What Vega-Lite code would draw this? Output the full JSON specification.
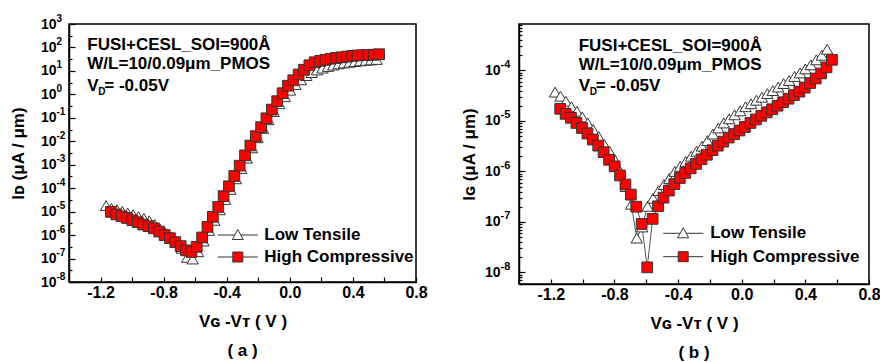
{
  "$schema": "https://vega.github.io/schema/vega-lite/v6.json",
  "background": "white",
  "padding": {"left": 8, "top": 12, "right": 2, "bottom": 0},
  "spacing": 31,
  "config": {
    "font": "Liberation Sans",
    "view": {"stroke": "#000", "strokeWidth": 1.5},
    "axis": {
      "domainColor": "#000", "domainWidth": 1.5, "tickColor": "#000", "tickWidth": 1.2,
      "labelColor": "#000", "titleColor": "#000", "labelFont": "Liberation Sans", "titleFont": "Liberation Sans",
      "labelFontWeight": "bold", "titleFontWeight": "bold", "grid": false, "labelFontSize": 16, "titleFontSize": 17
    },
    "legend": {"orient": "none", "title": null, "symbolSize": 400, "symbolStrokeColor": "#333", "symbolStrokeWidth": 1, "labelFontSize": 17, "labelFontWeight": "bold", "labelColor": "#000", "labelFont": "Liberation Sans", "labelLimit": 300, "padding": 0},
    "text": {"font": "Liberation Sans", "fontWeight": "bold", "color": "#000", "align": "left", "baseline": "alphabetic", "fontSize": 17}
  },
  "resolve": {"scale": {"fill": "independent", "color": "independent"}, "legend": {"fill": "independent", "color": "independent"}},
  "datasets": {
    "a": [
      {"s":"Low Tensile","v":-1.165,"I":1.82e-5},{"s":"Low Tensile","v":-1.131,"I":1.38e-5},{"s":"Low Tensile","v":-1.096,"I":1.20e-5},{"s":"Low Tensile","v":-1.062,"I":1.02e-5},{"s":"Low Tensile","v":-1.028,"I":8.71e-6},{"s":"Low Tensile","v":-0.994,"I":7.41e-6},{"s":"Low Tensile","v":-0.959,"I":6.17e-6},{"s":"Low Tensile","v":-0.925,"I":5.13e-6},{"s":"Low Tensile","v":-0.891,"I":4.07e-6},{"s":"Low Tensile","v":-0.856,"I":2.82e-6},
      {"s":"Low Tensile","v":-0.822,"I":1.82e-6},{"s":"Low Tensile","v":-0.788,"I":1.20e-6},{"s":"Low Tensile","v":-0.753,"I":8.13e-7},{"s":"Low Tensile","v":-0.719,"I":5.25e-7},{"s":"Low Tensile","v":-0.685,"I":2.75e-7},{"s":"Low Tensile","v":-0.650,"I":1.12e-7},{"s":"Low Tensile","v":-0.616,"I":9.55e-8},{"s":"Low Tensile","v":-0.582,"I":1.95e-7},{"s":"Low Tensile","v":-0.548,"I":5.62e-7},{"s":"Low Tensile","v":-0.513,"I":1.58e-6},
      {"s":"Low Tensile","v":-0.479,"I":4.27e-6},{"s":"Low Tensile","v":-0.445,"I":1.20e-5},{"s":"Low Tensile","v":-0.410,"I":3.31e-5},{"s":"Low Tensile","v":-0.376,"I":8.91e-5},{"s":"Low Tensile","v":-0.342,"I":2.51e-4},{"s":"Low Tensile","v":-0.308,"I":6.92e-4},{"s":"Low Tensile","v":-0.273,"I":1.91e-3},{"s":"Low Tensile","v":-0.239,"I":5.25e-3},{"s":"Low Tensile","v":-0.205,"I":1.41e-2},{"s":"Low Tensile","v":-0.170,"I":3.55e-2},
      {"s":"Low Tensile","v":-0.136,"I":8.32e-2},{"s":"Low Tensile","v":-0.102,"I":0.186},{"s":"Low Tensile","v":-0.067,"I":0.398},{"s":"Low Tensile","v":-0.033,"I":0.794},{"s":"Low Tensile","v":0.001,"I":1.51},{"s":"Low Tensile","v":0.036,"I":2.63},{"s":"Low Tensile","v":0.070,"I":4.17},{"s":"Low Tensile","v":0.104,"I":6.31},{"s":"Low Tensile","v":0.139,"I":8.51},{"s":"Low Tensile","v":0.173,"I":11.0},
      {"s":"Low Tensile","v":0.207,"I":13.2},{"s":"Low Tensile","v":0.242,"I":15.5},{"s":"Low Tensile","v":0.276,"I":17.8},{"s":"Low Tensile","v":0.310,"I":20.0},{"s":"Low Tensile","v":0.344,"I":21.9},{"s":"Low Tensile","v":0.379,"I":23.4},{"s":"Low Tensile","v":0.413,"I":25.1},{"s":"Low Tensile","v":0.447,"I":26.9},{"s":"Low Tensile","v":0.482,"I":28.2},{"s":"Low Tensile","v":0.516,"I":29.5},{"s":"Low Tensile","v":0.550,"I":30.9},
      {"s":"High Compressive","v":-1.134,"I":9.77e-6},{"s":"High Compressive","v":-1.100,"I":7.59e-6},{"s":"High Compressive","v":-1.066,"I":6.31e-6},{"s":"High Compressive","v":-1.032,"I":5.37e-6},{"s":"High Compressive","v":-0.998,"I":4.27e-6},{"s":"High Compressive","v":-0.964,"I":3.55e-6},{"s":"High Compressive","v":-0.930,"I":2.82e-6},{"s":"High Compressive","v":-0.896,"I":2.40e-6},{"s":"High Compressive","v":-0.862,"I":1.95e-6},{"s":"High Compressive","v":-0.828,"I":1.41e-6},
      {"s":"High Compressive","v":-0.794,"I":1.0e-6},{"s":"High Compressive","v":-0.760,"I":7.41e-7},{"s":"High Compressive","v":-0.726,"I":5.01e-7},{"s":"High Compressive","v":-0.692,"I":3.39e-7},{"s":"High Compressive","v":-0.658,"I":2.24e-7},{"s":"High Compressive","v":-0.624,"I":1.91e-7},{"s":"High Compressive","v":-0.590,"I":3.16e-7},{"s":"High Compressive","v":-0.556,"I":7.94e-7},{"s":"High Compressive","v":-0.522,"I":2.24e-6},{"s":"High Compressive","v":-0.488,"I":6.03e-6},
      {"s":"High Compressive","v":-0.454,"I":1.58e-5},{"s":"High Compressive","v":-0.420,"I":4.57e-5},{"s":"High Compressive","v":-0.386,"I":1.20e-4},{"s":"High Compressive","v":-0.352,"I":3.31e-4},{"s":"High Compressive","v":-0.318,"I":9.12e-4},{"s":"High Compressive","v":-0.284,"I":2.51e-3},{"s":"High Compressive","v":-0.250,"I":6.61e-3},{"s":"High Compressive","v":-0.216,"I":1.66e-2},{"s":"High Compressive","v":-0.182,"I":3.98e-2},{"s":"High Compressive","v":-0.148,"I":9.55e-2},
      {"s":"High Compressive","v":-0.114,"I":0.224},{"s":"High Compressive","v":-0.080,"I":0.513},{"s":"High Compressive","v":-0.046,"I":1.12},{"s":"High Compressive","v":-0.012,"I":2.34},{"s":"High Compressive","v":0.022,"I":3.98},{"s":"High Compressive","v":0.056,"I":7.08},{"s":"High Compressive","v":0.090,"I":11.2},{"s":"High Compressive","v":0.124,"I":17.4},{"s":"High Compressive","v":0.158,"I":23.4},{"s":"High Compressive","v":0.192,"I":26.9},
      {"s":"High Compressive","v":0.226,"I":29.5},{"s":"High Compressive","v":0.260,"I":33.1},{"s":"High Compressive","v":0.294,"I":35.5},{"s":"High Compressive","v":0.328,"I":38.0},{"s":"High Compressive","v":0.362,"I":40.7},{"s":"High Compressive","v":0.396,"I":43.7},{"s":"High Compressive","v":0.430,"I":45.7},{"s":"High Compressive","v":0.464,"I":46.8},{"s":"High Compressive","v":0.498,"I":47.5},{"s":"High Compressive","v":0.532,"I":49.0},{"s":"High Compressive","v":0.566,"I":51.3}
    ],
    "b": [
      {"s":"Low Tensile","v":-1.173,"I":3.72e-5},{"s":"Low Tensile","v":-1.139,"I":3.09e-5},{"s":"Low Tensile","v":-1.105,"I":2.45e-5},{"s":"Low Tensile","v":-1.070,"I":1.91e-5},{"s":"Low Tensile","v":-1.036,"I":1.55e-5},{"s":"Low Tensile","v":-1.002,"I":1.20e-5},{"s":"Low Tensile","v":-0.968,"I":9.12e-6},{"s":"Low Tensile","v":-0.934,"I":6.76e-6},{"s":"Low Tensile","v":-0.899,"I":4.90e-6},{"s":"Low Tensile","v":-0.865,"I":3.47e-6},
      {"s":"Low Tensile","v":-0.831,"I":2.51e-6},{"s":"Low Tensile","v":-0.797,"I":1.70e-6},{"s":"Low Tensile","v":-0.763,"I":1.0e-6},{"s":"Low Tensile","v":-0.728,"I":5.01e-7},{"s":"Low Tensile","v":-0.694,"I":2.24e-7},{"s":"Low Tensile","v":-0.660,"I":4.79e-8},{"s":"Low Tensile","v":-0.626,"I":7.94e-8},{"s":"Low Tensile","v":-0.592,"I":2.04e-7},{"s":"Low Tensile","v":-0.557,"I":2.95e-7},{"s":"Low Tensile","v":-0.523,"I":4.17e-7},
      {"s":"Low Tensile","v":-0.489,"I":5.50e-7},{"s":"Low Tensile","v":-0.455,"I":7.24e-7},{"s":"Low Tensile","v":-0.421,"I":1.0e-6},{"s":"Low Tensile","v":-0.387,"I":1.26e-6},{"s":"Low Tensile","v":-0.352,"I":1.58e-6},{"s":"Low Tensile","v":-0.318,"I":2.0e-6},{"s":"Low Tensile","v":-0.284,"I":2.51e-6},{"s":"Low Tensile","v":-0.250,"I":3.16e-6},{"s":"Low Tensile","v":-0.216,"I":4.07e-6},{"s":"Low Tensile","v":-0.181,"I":5.50e-6},
      {"s":"Low Tensile","v":-0.147,"I":7.24e-6},{"s":"Low Tensile","v":-0.113,"I":9.12e-6},{"s":"Low Tensile","v":-0.079,"I":1.10e-5},{"s":"Low Tensile","v":-0.045,"I":1.32e-5},{"s":"Low Tensile","v":-0.010,"I":1.58e-5},{"s":"Low Tensile","v":0.024,"I":1.91e-5},{"s":"Low Tensile","v":0.058,"I":2.19e-5},{"s":"Low Tensile","v":0.092,"I":2.57e-5},{"s":"Low Tensile","v":0.127,"I":2.95e-5},{"s":"Low Tensile","v":0.161,"I":3.47e-5},
      {"s":"Low Tensile","v":0.195,"I":3.98e-5},{"s":"Low Tensile","v":0.229,"I":4.68e-5},{"s":"Low Tensile","v":0.263,"I":5.50e-5},{"s":"Low Tensile","v":0.298,"I":6.31e-5},{"s":"Low Tensile","v":0.332,"I":7.59e-5},{"s":"Low Tensile","v":0.366,"I":8.91e-5},{"s":"Low Tensile","v":0.400,"I":1.07e-4},{"s":"Low Tensile","v":0.434,"I":1.29e-4},{"s":"Low Tensile","v":0.469,"I":1.62e-4},{"s":"Low Tensile","v":0.503,"I":2.0e-4},{"s":"Low Tensile","v":0.537,"I":2.63e-4},
      {"s":"High Compressive","v":-1.141,"I":1.74e-5},{"s":"High Compressive","v":-1.107,"I":1.38e-5},{"s":"High Compressive","v":-1.073,"I":1.15e-5},{"s":"High Compressive","v":-1.039,"I":9.12e-6},{"s":"High Compressive","v":-1.004,"I":7.24e-6},{"s":"High Compressive","v":-0.970,"I":5.62e-6},{"s":"High Compressive","v":-0.936,"I":4.27e-6},{"s":"High Compressive","v":-0.902,"I":3.24e-6},{"s":"High Compressive","v":-0.868,"I":2.40e-6},{"s":"High Compressive","v":-0.834,"I":1.70e-6},
      {"s":"High Compressive","v":-0.799,"I":1.26e-6},{"s":"High Compressive","v":-0.765,"I":8.32e-7},{"s":"High Compressive","v":-0.731,"I":5.50e-7},{"s":"High Compressive","v":-0.697,"I":3.47e-7},{"s":"High Compressive","v":-0.663,"I":2.00e-7},{"s":"High Compressive","v":-0.629,"I":9.12e-8},{"s":"High Compressive","v":-0.594,"I":1.26e-8},{"s":"High Compressive","v":-0.560,"I":1.15e-7},{"s":"High Compressive","v":-0.526,"I":2.04e-7},{"s":"High Compressive","v":-0.492,"I":3.02e-7},
      {"s":"High Compressive","v":-0.458,"I":4.17e-7},{"s":"High Compressive","v":-0.424,"I":5.62e-7},{"s":"High Compressive","v":-0.389,"I":7.41e-7},{"s":"High Compressive","v":-0.355,"I":9.33e-7},{"s":"High Compressive","v":-0.321,"I":1.15e-6},{"s":"High Compressive","v":-0.287,"I":1.41e-6},{"s":"High Compressive","v":-0.253,"I":1.74e-6},{"s":"High Compressive","v":-0.219,"I":2.14e-6},{"s":"High Compressive","v":-0.184,"I":2.63e-6},{"s":"High Compressive","v":-0.150,"I":3.24e-6},
      {"s":"High Compressive","v":-0.116,"I":3.89e-6},{"s":"High Compressive","v":-0.082,"I":4.68e-6},{"s":"High Compressive","v":-0.048,"I":5.50e-6},{"s":"High Compressive","v":-0.014,"I":6.46e-6},{"s":"High Compressive","v":0.020,"I":7.59e-6},{"s":"High Compressive","v":0.055,"I":9.12e-6},{"s":"High Compressive","v":0.089,"I":1.07e-5},{"s":"High Compressive","v":0.123,"I":1.26e-5},{"s":"High Compressive","v":0.157,"I":1.48e-5},{"s":"High Compressive","v":0.191,"I":1.70e-5},
      {"s":"High Compressive","v":0.225,"I":2.00e-5},{"s":"High Compressive","v":0.260,"I":2.34e-5},{"s":"High Compressive","v":0.294,"I":2.75e-5},{"s":"High Compressive","v":0.328,"I":3.24e-5},{"s":"High Compressive","v":0.362,"I":3.80e-5},{"s":"High Compressive","v":0.396,"I":4.57e-5},{"s":"High Compressive","v":0.430,"I":5.62e-5},{"s":"High Compressive","v":0.465,"I":6.92e-5},{"s":"High Compressive","v":0.499,"I":8.71e-5},{"s":"High Compressive","v":0.533,"I":1.15e-4},{"s":"High Compressive","v":0.567,"I":1.62e-4}
    ],
    "ta": [
      {"v": -1.284, "I": 76.4, "t": "FUSI+CESL_SOI=900Å"},
      {"v": -1.284, "I": 12.6, "t": "W/L=10/0.09μm_PMOS"}
    ],
    "va": [{"v": -1.284, "I": 1.46}],
    "tb": [
      {"v": -1.025, "I": 2.38e-4, "t": "FUSI+CESL_SOI=900Å"},
      {"v": -1.025, "I": 1.03e-4, "t": "W/L=10/0.09μm_PMOS"}
    ],
    "vb": [{"v": -1.025, "I": 3.87e-5}]
  },
  "hconcat": [
    {
      "width": 347,
      "height": 258,
      "title": {"text": "( a )", "orient": "bottom", "frame": "group", "fontSize": 17, "fontWeight": "bold", "font": "Liberation Sans", "color": "#000", "offset": 14},
      "resolve": {"axis": {"y": "independent"}},
      "encoding": {
        "x": {"field": "v", "type": "quantitative",
          "scale": {"domain": [-1.4, 0.8], "nice": false, "zero": false},
          "axis": {"title": "Vɢ -Vᴛ ( V )", "values": [-1.2, -1.0, -0.8, -0.6, -0.4, -0.2, 0, 0.2, 0.4, 0.6, 0.8],
            "labelExpr": "abs(round(datum.value*10)) % 4 == 0 ? replace(format(datum.value, '.1f'), '−', '-') : ''",
            "tickSize": -5, "labelPadding": 7, "labelFlush": false, "minExtent": 24, "maxExtent": 24, "titlePadding": 7}}
      },
      "layer": [
        {"data": {"name": "a"}, "mark": {"type": "line", "color": "#555", "strokeWidth": 1},
          "encoding": {
            "y": {"field": "I", "type": "quantitative", "scale": {"type": "log", "domain": [1e-8, 1000], "nice": false},
              "axis": {"orient": "left", "title": "Iᴅ (μA / μm)", "labels": false,
                "values": [1e-8, 3.162e-8, 1e-7, 3.162e-7, 1e-6, 3.162e-6, 1e-5, 3.162e-5, 1e-4, 3.162e-4, 0.001, 0.003162, 0.01, 0.03162, 0.1, 0.3162, 1, 3.162, 10, 31.62, 100, 316.2, 1000],
                "tickSize": {"condition": {"test": "abs(log(datum.value)/LN10 - round(log(datum.value)/LN10)) < 0.001", "value": -6}, "value": -3},
                "minExtent": 34, "maxExtent": 34, "titlePadding": 8}},
            "detail": {"field": "s"}}},
        {"data": {"name": "a"}, "transform": [{"filter": "datum.s == 'Low Tensile'"}],
          "mark": {"type": "point", "shape": "triangle-up", "filled": true, "size": 130, "stroke": "#333", "strokeWidth": 1, "opacity": 1},
          "encoding": {
            "y": {"field": "I", "type": "quantitative", "scale": {"type": "log", "domain": [1e-8, 1000], "nice": false},
              "axis": {"orient": "left", "title": null, "values": [1e-8, 1e-7, 1e-6, 1e-5, 1e-4, 0.001, 0.01, 0.1, 1, 10, 100, 1000],
                "labelExpr": "'10'", "ticks": false, "domain": false, "labelPadding": 13, "labelFontSize": 14,
                "labelFlush": false, "labelOverlap": false, "minExtent": 0, "maxExtent": 0}},
            "fill": {"field": "s", "type": "nominal", "scale": {"domain": ["Low Tensile"], "range": ["#ffffff"]},
              "legend": {"legendX": 158.3, "legendY": 200.5, "labelOffset": 16, "symbolType": "M-2,0H-0.3M0.3,0H2M0,-0.55L0.55,0.45L-0.55,0.45Z"}}
          }},
        {"data": {"name": "a"}, "transform": [{"filter": "datum.s == 'High Compressive'"}],
          "mark": {"type": "point", "shape": "square", "filled": true, "size": 115, "stroke": "#333", "strokeWidth": 1, "opacity": 1},
          "encoding": {
            "y": {"field": "I", "type": "quantitative", "scale": {"type": "log", "domain": [1e-8, 1000], "nice": false},
              "axis": {"orient": "left", "title": null, "values": [1e-8, 1e-7, 1e-6, 1e-5, 1e-4, 0.001, 0.01, 0.1, 1, 10, 100, 1000],
                "labelExpr": "(round(log(datum.value)/LN10) < 0 ? '-' : '') + abs(round(log(datum.value)/LN10))",
                "ticks": false, "domain": false, "labelAlign": "left", "labelBaseline": "middle", "labelPadding": 13, "labelOffset": -6,
                "labelFontSize": 10, "labelFlush": false, "labelOverlap": false, "minExtent": 0, "maxExtent": 0}},
            "color": {"field": "s", "type": "nominal", "scale": {"domain": ["High Compressive"], "range": ["#ff0000"]},
              "legend": {"legendX": 158.3, "legendY": 222.5, "labelOffset": 16, "symbolType": "M-2,0H-0.5M-0.5,-0.5H0.5V0.5H-0.5ZM0.5,0H2"}}
          }},
        {"data": {"name": "ta"}, "mark": {"type": "text"},
          "encoding": {"y": {"field": "I", "type": "quantitative", "scale": {"type": "log", "domain": [1e-8, 1000], "nice": false}, "axis": null}, "text": {"field": "t"}}},
        {"data": {"name": "va"}, "mark": {"type": "text", "text": "V"},
          "encoding": {"y": {"field": "I", "type": "quantitative", "scale": {"type": "log", "domain": [1e-8, 1000], "nice": false}, "axis": null}}},
        {"data": {"name": "va"}, "mark": {"type": "text", "text": "D", "dx": 11, "dy": 4, "fontSize": 10},
          "encoding": {"y": {"field": "I", "type": "quantitative", "scale": {"type": "log", "domain": [1e-8, 1000], "nice": false}, "axis": null}}},
        {"data": {"name": "va"}, "mark": {"type": "text", "text": "= -0.05V", "dx": 17},
          "encoding": {"y": {"field": "I", "type": "quantitative", "scale": {"type": "log", "domain": [1e-8, 1000], "nice": false}, "axis": null}}}
      ]
    },
    {
      "width": 350,
      "height": 260,
      "title": {"text": "( b )", "orient": "bottom", "frame": "group", "fontSize": 17, "fontWeight": "bold", "font": "Liberation Sans", "color": "#000", "offset": 14},
      "resolve": {"axis": {"y": "independent"}},
      "encoding": {
        "x": {"field": "v", "type": "quantitative",
          "scale": {"domain": [-1.4, 0.8], "nice": false, "zero": false},
          "axis": {"title": "Vɢ -Vᴛ ( V )", "values": [-1.2, -1.0, -0.8, -0.6, -0.4, -0.2, 0, 0.2, 0.4, 0.6, 0.8],
            "labelExpr": "abs(round(datum.value*10)) % 4 == 0 ? replace(format(datum.value, '.1f'), '−', '-') : ''",
            "tickSize": -5, "labelPadding": 7, "labelFlush": false, "minExtent": 24, "maxExtent": 24, "titlePadding": 7}}
      },
      "layer": [
        {"data": {"name": "b"}, "mark": {"type": "line", "color": "#555", "strokeWidth": 1},
          "encoding": {
            "y": {"field": "I", "type": "quantitative", "scale": {"type": "log", "domain": [5.9e-9, 8.3e-4], "nice": false},
              "axis": {"orient": "left", "title": "Iɢ (μA / μm)", "labels": false,
                "values": [6e-9, 7e-9, 8e-9, 9e-9, 1e-8, 2e-8, 3e-8, 4e-8, 5e-8, 6e-8, 7e-8, 8e-8, 9e-8, 1e-7, 2e-7, 3e-7, 4e-7, 5e-7, 6e-7, 7e-7, 8e-7, 9e-7, 1e-6, 2e-6, 3e-6, 4e-6, 5e-6, 6e-6, 7e-6, 8e-6, 9e-6, 1e-5, 2e-5, 3e-5, 4e-5, 5e-5, 6e-5, 7e-5, 8e-5, 9e-5, 1e-4, 2e-4, 3e-4, 4e-4, 5e-4, 6e-4, 7e-4, 8e-4],
                "tickSize": {"condition": {"test": "abs(log(datum.value)/LN10 - round(log(datum.value)/LN10)) < 0.001", "value": -6}, "value": -3},
                "minExtent": 33, "maxExtent": 33, "titlePadding": 8}},
            "detail": {"field": "s"}}},
        {"data": {"name": "b"}, "transform": [{"filter": "datum.s == 'Low Tensile'"}],
          "mark": {"type": "point", "shape": "triangle-up", "filled": true, "size": 130, "stroke": "#333", "strokeWidth": 1, "opacity": 1},
          "encoding": {
            "y": {"field": "I", "type": "quantitative", "scale": {"type": "log", "domain": [5.9e-9, 8.3e-4], "nice": false},
              "axis": {"orient": "left", "title": null, "values": [1e-8, 1e-7, 1e-6, 1e-5, 1e-4],
                "labelExpr": "'10'", "ticks": false, "domain": false, "labelPadding": 19, "labelFontSize": 14,
                "labelFlush": false, "labelOverlap": false, "minExtent": 0, "maxExtent": 0}},
            "fill": {"field": "s", "type": "nominal", "scale": {"domain": ["Low Tensile"], "range": ["#ffffff"]},
              "legend": {"legendX": 153.7, "legendY": 198.8, "labelOffset": 16.5, "symbolType": "M-2,0H-0.3M0.3,0H2M0,-0.55L0.55,0.45L-0.55,0.45Z"}}
          }},
        {"data": {"name": "b"}, "transform": [{"filter": "datum.s == 'High Compressive'"}],
          "mark": {"type": "point", "shape": "square", "filled": true, "size": 115, "stroke": "#333", "strokeWidth": 1, "opacity": 1},
          "encoding": {
            "y": {"field": "I", "type": "quantitative", "scale": {"type": "log", "domain": [5.9e-9, 8.3e-4], "nice": false},
              "axis": {"orient": "left", "title": null, "values": [1e-8, 1e-7, 1e-6, 1e-5, 1e-4],
                "labelExpr": "(round(log(datum.value)/LN10) < 0 ? '-' : '') + abs(round(log(datum.value)/LN10))",
                "ticks": false, "domain": false, "labelAlign": "left", "labelBaseline": "middle", "labelPadding": 19, "labelOffset": -6,
                "labelFontSize": 11, "labelFlush": false, "labelOverlap": false, "minExtent": 0, "maxExtent": 0}},
            "color": {"field": "s", "type": "nominal", "scale": {"domain": ["High Compressive"], "range": ["#ff0000"]},
              "legend": {"legendX": 153.7, "legendY": 222.2, "labelOffset": 16.5, "symbolType": "M-2,0H-0.5M-0.5,-0.5H0.5V0.5H-0.5ZM0.5,0H2"}}
          }},
        {"data": {"name": "tb"}, "mark": {"type": "text"},
          "encoding": {"y": {"field": "I", "type": "quantitative", "scale": {"type": "log", "domain": [5.9e-9, 8.3e-4], "nice": false}, "axis": null}, "text": {"field": "t"}}},
        {"data": {"name": "vb"}, "mark": {"type": "text", "text": "V"},
          "encoding": {"y": {"field": "I", "type": "quantitative", "scale": {"type": "log", "domain": [5.9e-9, 8.3e-4], "nice": false}, "axis": null}}},
        {"data": {"name": "vb"}, "mark": {"type": "text", "text": "D", "dx": 11, "dy": 4, "fontSize": 10},
          "encoding": {"y": {"field": "I", "type": "quantitative", "scale": {"type": "log", "domain": [5.9e-9, 8.3e-4], "nice": false}, "axis": null}}},
        {"data": {"name": "vb"}, "mark": {"type": "text", "text": "= -0.05V", "dx": 17},
          "encoding": {"y": {"field": "I", "type": "quantitative", "scale": {"type": "log", "domain": [5.9e-9, 8.3e-4], "nice": false}, "axis": null}}}
      ]
    }
  ]
}
